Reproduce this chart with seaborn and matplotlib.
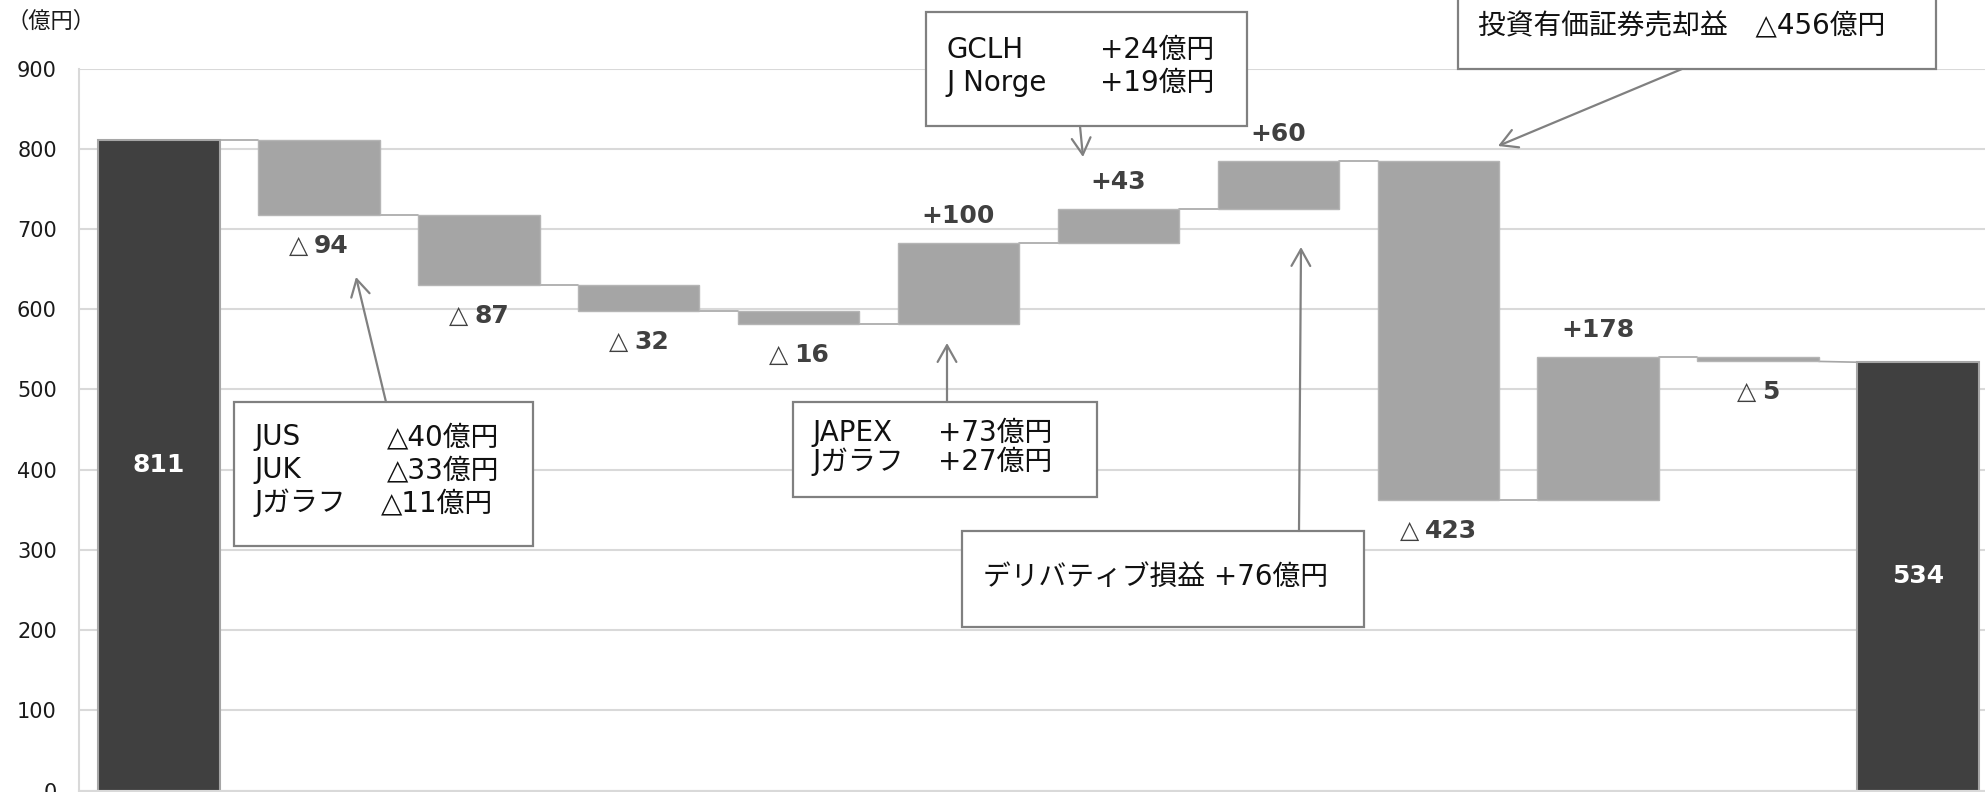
import numpy as np
import pandas as pd
import matplotlib
matplotlib.use('Agg')
import matplotlib.pyplot as plt
import matplotlib.transforms as mtransforms
from matplotlib.patches import Rectangle, FancyArrowPatch
import seaborn as sns

# --- データ ---
steps = ['前期', '要因1', '要因2', '要因3', '要因4', '要因5',
         '要因6', '要因7', '要因8', '要因9', '要因10', '当期']
values = [811, -94, -87, -32, -16, 100, 43, 60, -423, 178, -5, 534]
is_total = [True, False, False, False, False, False,
            False, False, False, False, False, True]

# 注記ボックスの中身
note_jus = [('JUS', '△40億円'), ('JUK', '△33億円'), ('Jガラフ', '△11億円')]
note_gclh = [('GCLH', '+24億円'), ('J Norge', '+19億円')]
note_japex = [('JAPEX', '+73億円'), ('Jガラフ', '+27億円')]
note_deriv = 'デリバティブ損益 +76億円'
note_invest = '投資有価証券売却益　△456億円'

DARK = '#404040'
GREY = '#A5A5A5'
LABEL = '#404040'

# 累積からbottom/heightを計算
bottoms, heights, starts, ends = [], [], [], []
running = 0
for v, tot in zip(values, is_total):
    if tot:
        bottoms.append(0); heights.append(v)
        starts.append(v); ends.append(v)
        running = v
    else:
        bottoms.append(running); heights.append(v)
        starts.append(running); running += v; ends.append(running)

df = pd.DataFrame({'step': steps, 'height': heights, 'bottom': bottoms})

sns.set_style('white')
plt.rcParams['font.family'] = ['DejaVu Sans', 'Noto Sans CJK JP']

W, H = 1985, 792
fig = plt.figure(figsize=(W / 100, H / 100), dpi=100)
ax = fig.add_axes([79 / W, 1.4 / H, 1919 / W, 722 / H])

sns.barplot(data=df, x='step', y='height', bottom=df['bottom'].to_numpy(),
            width=0.76, color=GREY, saturation=1, errorbar=None,
            edgecolor='#B5B5B5', linewidth=1, ax=ax, zorder=2)

for patch, tot in zip(ax.patches, is_total):
    if tot:
        patch.set_facecolor(DARK)
        patch.set_edgecolor('#A6A6A6')
        patch.set_linewidth(1.5)

# 接続線
half = 0.38
for i in range(len(values) - 1):
    ax.plot([i + half, i + 1 - half], [ends[i], starts[i + 1]],
            color='#A6A6A6', lw=1.2, zorder=1.5)

ax.set_xlim(-0.5, len(values) - 0.5)
ax.set_ylim(0, 900)
ax.set_yticks(range(0, 1000, 100))
ax.set_xticks([])
ax.set_xlabel('')
ax.set_ylabel('')
ax.yaxis.grid(True, color='#D9D9D9', lw=1.5)
ax.set_axisbelow(True)
for s in ['top', 'right']:
    ax.spines[s].set_visible(False)
for s in ['left', 'bottom']:
    ax.spines[s].set_color('#D9D9D9')
    ax.spines[s].set_linewidth(1.5)
ax.tick_params(axis='y', length=0, pad=16, labelsize=15, labelcolor='#1a1a1a')

# 値ラベル
renderer = fig.canvas.get_renderer()
for i, (v, tot) in enumerate(zip(values, is_total)):
    if tot:
        ax.text(i, v / 2, f'{v}', color='white', fontsize=18, fontweight='bold',
                ha='center', va='center', zorder=4)
    elif v > 0:
        ax.annotate(f'+{v}', xy=(i, ends[i]), xytext=(0, 20), textcoords='offset pixels',
                    ha='center', va='baseline', fontsize=18, fontweight='bold',
                    color=LABEL, zorder=4)
    else:
        tri = ax.annotate('△', xy=(i, ends[i]), xytext=(0, -38), textcoords='offset pixels',
                          ha='left', va='baseline', fontsize=18, color=LABEL, zorder=4)
        num = ax.annotate(f'{-v}', xy=(i, ends[i]), xytext=(0, -38), textcoords='offset pixels',
                          ha='left', va='baseline', fontsize=18, fontweight='bold',
                          color=LABEL, zorder=4)
        wt = tri.get_window_extent(renderer).width
        wn = num.get_window_extent(renderer).width
        gap = 6
        left = -(wt + gap + wn) / 2
        tri.xyann = (left, -38)
        num.xyann = (left + wt + gap, -38)

# 単位
fig.text(6 / W, 1 - 21 / H, '（億円）', fontsize=16, color='#1a1a1a', va='center', ha='left',
         family=['Noto Sans CJK JP', 'DejaVu Sans'])

# 注記（ピクセル座標、左上原点）
pix = mtransforms.Affine2D().scale(1 / W, -1 / H).translate(0, 1) + fig.transFigure


def box(x0, y0, x1, y1):
    fig.add_artist(Rectangle((x0, y0), x1 - x0, y1 - y0, transform=pix,
                             facecolor='white', edgecolor='#808080', lw=1.6, zorder=2))


def arrow(tail, head):
    fig.add_artist(FancyArrowPatch(tail, head, transform=pix,
                                   arrowstyle='->,head_length=0.8,head_width=0.45',
                                   mutation_scale=15, color='#808080', lw=1.6,
                                   shrinkA=0, shrinkB=0, zorder=2.5))


def txt(x, y, s):
    fig.text(x, y, s, transform=pix, fontsize=20, color='#111111',
             ha='left', va='center', zorder=3)


# JUS/JUK/Jガラフ
box(234, 402, 533, 546)
arrow((386, 402), (356, 277))
for (name, val), y, xv in zip(note_jus, [437, 470, 503], [387, 387, 381]):
    txt(254, y, name); txt(xv, y, val)

# GCLH / J Norge
box(926, 12, 1247, 126)
arrow((1080, 126), (1083, 157))
for (name, val), y in zip(note_gclh, [50, 83]):
    txt(946, y, name); txt(1100, y, val)

# JAPEX / Jガラフ
box(793, 402, 1097, 497)
arrow((947, 402), (947, 343))
for (name, val), y in zip(note_japex, [433, 462]):
    txt(812, y, name); txt(938, y, val)

# デリバティブ損益
box(962, 531, 1364, 627)
arrow((1299, 531), (1301, 247))
txt(983, 577, note_deriv)

# 投資有価証券売却益
box(1458, -40, 1936, 69)
arrow((1682, 69), (1498, 146))
txt(1478, 26, note_invest)

fig.savefig('out.png', dpi=100)
print('Saved: out.png')
